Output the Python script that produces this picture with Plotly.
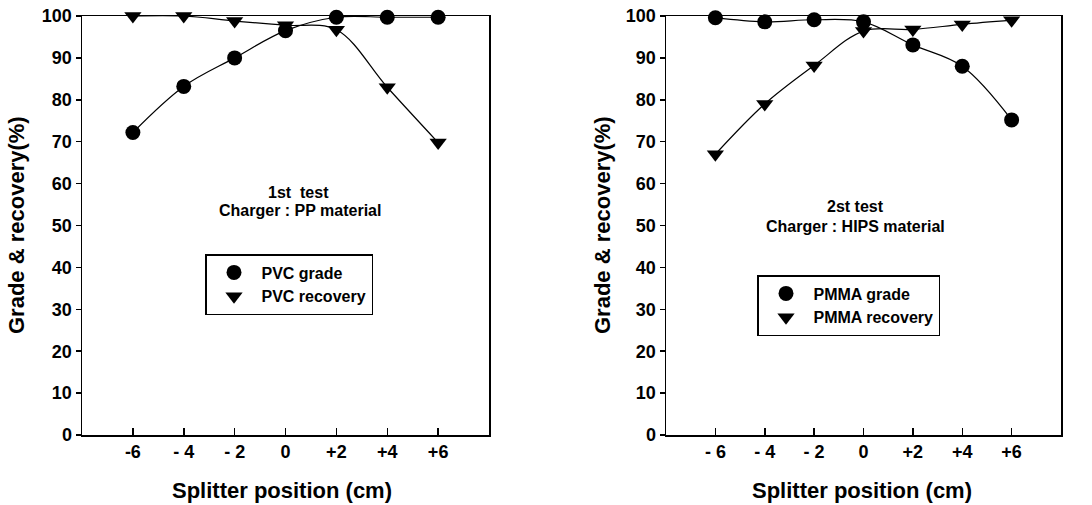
import plotly.graph_objects as go

positions = [-6, -4, -2, 0, 2, 4, 6]
tick_text_left = ["-6", "- 4", "- 2", "0", "+2", "+4", "+6"]
tick_text_right = ["- 6", "- 4", "- 2", "0", "+2", "+4", "+6"]

pvc_grade = [72.2, 83.2, 90.0, 96.5, 99.7, 99.7, 99.7]
pvc_recovery = [100.0, 100.0, 98.8, 97.8, 96.7, 83.0, 69.8]
pmma_grade = [99.6, 98.6, 99.1, 98.6, 93.1, 88.0, 75.2]
pmma_recovery = [67.0, 79.0, 88.2, 96.4, 96.8, 98.0, 99.0]

FONT = "Liberation Sans, Arial, sans-serif"
black = "black"

fig = go.Figure()

def add_panel(xa, ya, grade, recovery, grade_name, rec_name, legend):
    for vals in (grade, recovery):
        fig.add_trace(go.Scatter(x=positions, y=vals, mode="lines",
                                 line=dict(color=black, width=1.2, shape="spline", smoothing=1.0),
                                 xaxis=xa, yaxis=ya, showlegend=False, hoverinfo="skip",
                                 cliponaxis=False))
    fig.add_trace(go.Scatter(x=positions, y=grade, mode="markers", name=grade_name,
                             marker=dict(symbol="circle", size=15, color=black),
                             xaxis=xa, yaxis=ya, legend=legend, cliponaxis=False))
    fig.add_trace(go.Scatter(x=positions, y=recovery, mode="markers", name=rec_name,
                             marker=dict(symbol="triangle-down", size=15, color=black),
                             xaxis=xa, yaxis=ya, legend=legend, cliponaxis=False))

add_panel("x", "y", pvc_grade, pvc_recovery, "PVC grade", "PVC recovery", "legend")
add_panel("x2", "y2", pmma_grade, pmma_recovery, "PMMA grade", "PMMA recovery", "legend2")

tickfont = dict(family=FONT, size=18, color=black, weight="bold")
xcommon = dict(range=[-8, 8], tickvals=positions, ticks="inside", ticklen=7, tickwidth=1.5,
               tickcolor=black, showline=True, linecolor=black, linewidth=1.5, mirror=True,
               showgrid=False, zeroline=False, tickfont=tickfont, fixedrange=True,
               automargin=False)
ycommon = dict(range=[0, 100], dtick=10, ticks="outside", ticklen=5, tickwidth=1.5,
               tickcolor=black, showline=True, linecolor=black, linewidth=1.5, mirror=True,
               showgrid=False, zeroline=False, tickfont=tickfont, fixedrange=True,
               automargin=False)

legfont = dict(family=FONT, size=16, color=black, weight="bold")
fig.update_layout(
    template="none",
    width=1092, height=505,
    margin=dict(l=0, r=0, t=0, b=0, autoexpand=False),
    paper_bgcolor="white", plot_bgcolor="white",
    font=dict(family=FONT, color=black),
    xaxis=dict(domain=[82/1092, 489/1092], ticktext=tick_text_left, anchor="y", **xcommon),
    yaxis=dict(domain=[1-435/505, 1-16/505], anchor="x", **ycommon),
    xaxis2=dict(domain=[666/1092, 1061/1092], ticktext=tick_text_right, anchor="y2", **xcommon),
    yaxis2=dict(domain=[1-435/505, 1-16/505], anchor="x2", **ycommon),
    legend=dict(x=205/1092, y=1-254/505, xanchor="left", yanchor="top",
                bordercolor=black, borderwidth=1.5, bgcolor="white", font=legfont,
                itemwidth=45, tracegroupgap=0),
    legend2=dict(x=757/1092, y=1-275/505, xanchor="left", yanchor="top",
                 bordercolor=black, borderwidth=1.5, bgcolor="white", font=legfont,
                 itemwidth=45, tracegroupgap=0),
    showlegend=True,
)

titlefont = dict(family=FONT, size=22, color=black, weight="bold")
annfont = dict(family=FONT, size=16, color=black, weight="bold")
anns = [
    dict(text="Grade &amp; recovery(%)", x=17/1092, y=1-225/505, textangle=-90, font=titlefont),
    dict(text="Grade &amp; recovery(%)", x=603/1092, y=1-225/505, textangle=-90, font=titlefont),
    dict(text="Splitter position (cm)", x=282/1092, y=1-490/505, font=titlefont),
    dict(text="Splitter position (cm)", x=862/1092, y=1-490/505, font=titlefont),
    dict(text="1st  test", x=298/1092, y=1-192/505, font=annfont),
    dict(text="Charger : PP material", x=300/1092, y=1-211/505, font=annfont),
    dict(text="2st test", x=855/1092, y=1-207/505, font=annfont),
    dict(text="Charger : HIPS material", x=855/1092, y=1-227/505, font=annfont),
]
for a in anns:
    fig.add_annotation(xref="paper", yref="paper", showarrow=False, xanchor="center",
                       yanchor="middle", **a)

fig.write_html("out.html", config={"displayModeBar": False, "staticPlot": True},
               post_script="document.body.style.margin='0';document.body.style.overflow='hidden';")
